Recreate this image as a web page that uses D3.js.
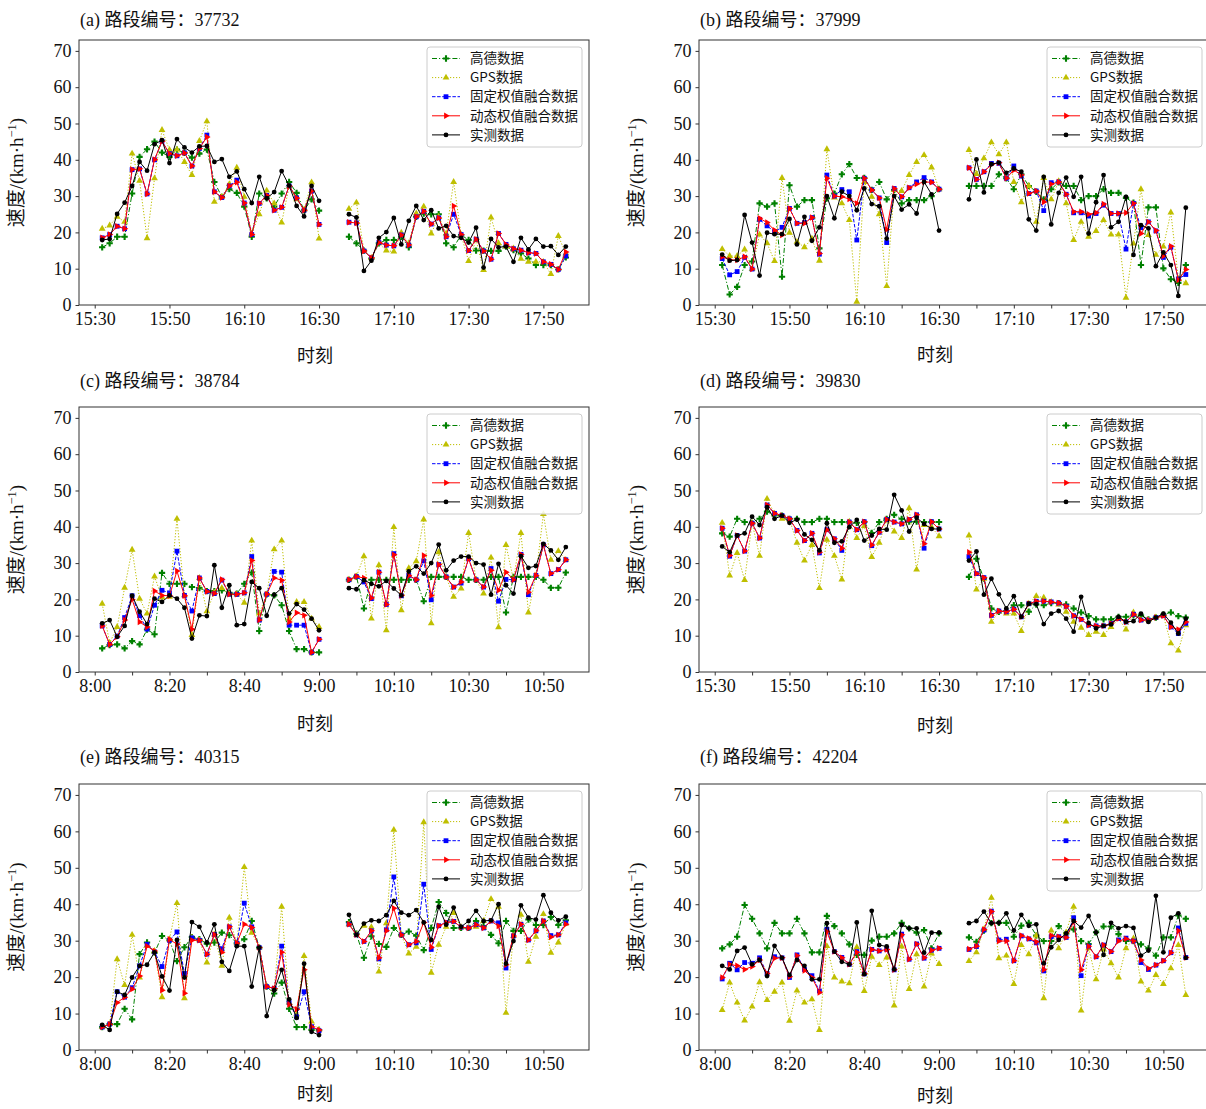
<!DOCTYPE html>
<html>
<head>
<meta charset="utf-8">
<script src="https://cdn.jsdelivr.net/npm/d3@7"></script>
<style>
  body { margin: 0; background: #fff; }
  svg { display: block; }
</style>
</head>
<body>
<svg id="chart" width="1206" height="1109"></svg>
<script>
// series: 高德, GPS, 固定权值融合, 动态权值融合, 实测 (first 30 values = left segment, last 30 = right segment)
const a_gaode = [15.9,17.0,18.8,18.8,30.7,40.8,42.9,45.0,42.0,40.8, 42.8,41.9,40.6,41.7,42.8,33.9,29.8,31.9,30.9,27.1, 18.8,30.7,29.4,27.1,30.7,33.9,30.9,26.1,29.1,26.0,
                 18.8,17.0,15.0,12.8,17.0,17.9,17.9,18.8,15.9,24.3, 25.2,25.0,25.0,17.0,15.9,19.3,17.9,15.0,15.0,14.9, 14.9,16.1,15.1,14.2,12.8,11.0,11.0,11.0,9.8,13.1];
const a_gps = [21.0,21.9,24.3,22.9,41.7,34.2,18.4,34.9,48.2,42.7, 42.8,39.4,35.8,45.2,50.6,28.4,29.8,33.3,37.8,29.8, 19.7,25.0,31.5,28.0,22.7,32.6,29.1,26.3,33.8,18.3,
               26.5,28.2,14.9,13.0,17.0,15.0,14.7,19.9,17.0,25.2, 27.1,19.7,24.3,19.7,33.9,19.3,12.1,17.9,9.6,24.1, 17.0,16.1,15.6,12.7,11.9,11.9,11.9,8.5,19.0,14.2];
const a_fixed = [18.5,19.4,21.7,21.0,37.3,37.5,30.6,40.0,45.1,41.7, 41.1,41.9,38.3,43.1,46.8,31.2,29.6,32.8,34.4,28.1, 19.4,28.0,30.2,26.1,26.9,32.8,29.5,26.1,31.4,22.2,
                 22.8,22.6,14.9,13.0,17.2,16.5,16.3,19.3,16.5,24.3, 25.8,22.3,24.0,18.8,25.0,19.4,15.0,18.1,14.9,12.6, 19.7,16.7,15.5,15.1,14.4,14.2,11.9,11.2,9.8,13.5];
const a_dynamic = [18.5,19.4,21.7,21.0,37.3,37.5,30.6,40.1,45.1,41.7, 41.1,41.9,38.3,43.1,46.3,31.2,29.6,32.8,33.8,28.1, 19.4,28.0,30.2,26.1,26.9,32.8,29.5,26.1,31.4,22.2,
                   22.8,22.6,14.9,13.0,17.2,16.5,16.3,19.3,16.5,24.3, 25.8,22.3,24.0,18.8,27.3,19.4,15.0,18.1,14.9,12.6, 19.7,16.7,15.5,15.1,14.4,14.2,11.9,11.2,9.8,14.6];
const a_measured = [17.9,18.2,25.1,28.2,32.8,39.4,37.0,44.3,45.4,39.1, 45.7,43.4,42.0,43.7,43.8,39.4,40.2,35.3,36.8,31.9, 28.1,35.3,29.4,31.1,36.9,32.9,27.3,24.4,32.8,28.7,
                    25.0,24.1,9.4,12.2,18.5,20.1,24.0,16.7,23.2,27.3, 23.4,26.1,21.1,21.8,19.0,18.5,17.2,21.3,10.3,18.2, 15.9,16.1,11.9,18.5,15.3,18.2,16.1,16.2,13.8,16.1];

const b_gaode = [11.0,2.9,5.0,11.0,12.0,28.0,27.1,28.0,7.8,33.0, 27.1,28.9,28.9,15.6,29.4,30.7,36.0,38.8,35.0,35.0, 31.7,33.9,29.1,31.7,28.0,28.9,28.9,28.9,30.0,31.9,
                 32.8,32.8,32.8,32.8,36.0,34.9,31.9,36.0,32.8,31.2, 29.1,31.9,33.8,32.8,32.8,28.9,30.0,30.0,31.9,30.9, 30.9,29.5,28.2,11.0,26.9,26.9,10.1,7.1,6.1,11.0];
const b_gps = [15.4,13.5,13.5,15.3,9.9,19.4,17.0,12.1,35.0,19.9, 17.4,15.9,18.3,12.2,42.9,29.6,28.0,23.4,0.9,33.9, 29.8,25.0,5.2,31.7,31.4,35.8,39.4,41.3,37.9,31.9,
               42.7,36.1,40.4,44.8,41.5,44.8,33.9,28.3,32.8,22.9, 35.0,29.1,34.1,28.0,17.9,22.9,18.8,20.4,23.4,19.4, 19.4,2.0,16.9,31.9,19.3,13.8,16.1,25.5,7.2,6.0];
const b_fixed = [12.8,8.3,9.2,13.1,9.9,23.6,21.8,20.2,21.4,26.6, 22.5,22.7,24.1,14.0,35.8,30.0,31.8,31.2,17.9,34.9, 31.7,29.5,17.2,32.1,29.8,32.3,33.9,35.1,33.9,31.9,
                 37.8,34.6,36.7,39.0,39.0,34.9,38.3,35.5,30.7,31.4, 26.0,33.7,33.9,30.5,25.4,25.4,24.5,25.2,27.5,25.2, 25.2,15.4,28.0,21.3,22.9,20.4,13.1,15.9,7.2,8.4];
const b_dynamic = [13.3,12.4,12.4,13.3,9.9,23.9,22.7,20.6,19.3,26.6, 22.5,22.5,24.1,14.2,34.9,30.0,29.8,29.2,28.0,34.9, 31.7,29.5,20.8,32.1,29.8,32.3,33.3,33.9,33.8,31.9,
                   37.8,34.6,36.7,38.7,39.2,34.9,37.2,35.8,30.7,31.4, 28.4,33.3,33.9,30.5,25.7,25.7,25.0,25.4,27.8,25.2, 25.2,25.4,28.0,19.7,22.9,20.5,13.5,16.2,6.9,9.8];
const b_measured = [13.9,12.2,12.4,24.8,17.2,8.1,19.9,19.5,19.5,23.7, 16.7,24.3,17.7,21.4,30.0,23.9,31.2,30.0,26.1,32.1, 27.8,27.2,18.3,30.0,26.3,27.7,25.2,33.9,30.5,20.5,
                    29.1,40.1,31.0,38.8,39.2,36.4,37.6,36.7,23.6,20.5, 35.3,22.2,30.9,35.1,29.8,35.3,19.7,28.3,35.8,21.4, 22.9,29.8,13.8,22.0,21.1,10.7,14.5,11.0,2.5,26.8];

const c_gaode = [6.5,7.4,7.6,6.5,8.5,7.6,11.7,10.4,27.3,24.3, 24.3,24.3,23.4,23.1,22.3,22.3,22.5,21.8,21.6,24.3, 27.4,11.3,21.4,21.1,18.4,11.3,6.3,6.3,5.4,5.4,
                 25.4,26.3,17.5,25.4,25.4,25.4,25.4,25.4,25.4,25.4, 19.5,26.2,26.2,26.2,26.2,26.2,25.4,25.4,25.4,26.2, 26.2,16.4,26.2,26.2,26.2,26.2,25.4,23.2,23.2,27.4];
const c_gps = [18.8,8.0,12.4,23.2,33.7,20.2,16.1,26.3,20.5,20.7, 42.2,21.1,10.2,25.9,16.7,21.9,23.1,21.4,21.4,19.1, 36.2,16.1,21.4,33.8,36.2,14.7,19.3,19.3,14.7,12.4,
               25.4,26.3,31.9,14.7,29.4,11.5,39.9,17.0,28.6,30.5, 42.0,13.4,33.0,26.2,20.7,23.0,38.3,25.4,21.6,31.5, 12.3,35.0,25.4,38.3,16.4,26.6,43.5,30.9,33.3,30.9];
const c_fixed = [12.7,7.6,9.9,15.0,21.0,15.5,11.8,18.4,22.5,21.8, 33.3,21.1,16.8,25.9,22.2,21.6,25.3,21.4,21.4,21.8, 31.8,14.3,21.4,27.7,27.5,12.9,12.9,12.9,5.4,9.0,
                 25.4,26.3,24.8,20.2,27.5,18.6,32.6,21.0,26.6,25.4, 30.6,19.9,29.6,26.2,23.4,24.5,31.2,25.4,23.4,28.5, 19.5,25.5,25.4,32.4,21.3,26.6,35.0,27.1,28.2,30.9];
const c_dynamic = [12.7,7.6,9.7,14.3,20.0,13.8,12.4,22.3,21.1,21.0, 27.8,21.0,11.8,25.9,22.2,21.6,25.5,21.4,21.4,21.8, 30.7,14.3,21.4,25.9,25.3,13.8,16.3,15.6,5.4,9.0,
                   25.4,26.3,25.9,20.4,27.5,18.6,32.3,21.1,26.6,25.4, 32.1,21.1,29.6,26.2,23.4,24.8,31.2,25.4,23.4,28.0, 22.5,27.5,25.4,32.4,22.0,26.6,35.0,27.1,28.2,30.9];
const c_measured = [13.4,14.3,9.7,12.7,21.0,16.6,13.2,20.2,19.3,21.1, 20.2,17.7,9.2,15.6,15.4,29.4,17.7,23.9,12.9,13.2, 24.8,23.1,15.5,21.3,23.1,16.1,18.7,17.2,14.7,11.5,
                    23.1,22.8,25.3,24.3,23.6,25.1,23.0,21.1,27.7,29.1, 27.1,30.0,35.1,28.0,30.7,31.8,31.8,30.0,29.6,21.3, 29.8,23.9,21.6,31.9,28.7,29.2,35.3,33.5,30.9,34.4];

const d_gaode = [38.2,37.3,42.2,41.3,41.0,42.2,44.2,43.1,43.1,42.2, 42.2,41.3,41.3,42.2,42.2,41.3,41.3,41.3,41.1,41.3, 38.3,41.3,42.2,43.3,42.2,41.4,41.4,41.3,41.3,41.3,
                 26.2,31.2,25.7,17.5,16.6,16.8,18.4,18.4,16.6,18.6, 18.4,19.0,19.0,18.6,17.5,16.4,15.4,14.5,14.5,14.5, 15.2,15.2,15.6,15.6,14.5,15.0,15.8,16.4,15.4,15.0];
const d_gps = [41.1,26.6,32.8,25.3,41.1,32.0,47.7,43.6,42.2,42.0, 35.6,30.7,35.0,23.1,36.4,32.0,25.5,41.4,36.9,40.2, 31.7,35.6,41.7,38.7,36.9,45.1,28.2,40.5,39.9,37.4,
               37.6,22.7,25.7,13.8,16.6,16.1,16.1,11.3,18.8,20.9, 20.5,19.3,18.6,16.6,13.8,12.2,10.2,11.1,10.2,12.4, 14.7,11.7,16.4,14.3,14.3,15.0,15.5,7.9,5.9,12.9];
const d_fixed = [39.6,31.9,37.6,33.3,41.0,36.9,46.0,43.7,43.1,42.2, 39.0,36.2,38.2,32.8,39.2,36.7,33.5,41.3,39.2,41.4, 34.8,38.5,42.0,41.3,40.8,42.0,43.3,34.1,41.4,39.4,
                 31.8,27.1,26.0,15.6,16.8,16.6,17.3,15.2,18.8,19.5, 19.5,19.3,19.0,18.1,15.5,14.5,12.9,12.7,12.7,13.4, 14.7,13.8,15.9,14.3,14.3,15.0,15.5,12.4,10.6,13.4];
const d_dynamic = [39.6,32.1,37.6,33.3,41.0,36.9,46.0,43.7,43.1,42.2, 39.0,36.2,38.2,33.0,39.2,36.7,34.1,41.3,39.2,41.4, 35.0,38.5,42.0,41.3,40.8,42.0,43.3,35.3,41.4,39.4,
                   33.0,27.1,26.0,15.6,16.8,16.6,17.3,15.2,18.8,19.5, 19.5,19.3,19.0,18.1,15.5,14.5,12.9,12.7,12.7,13.4, 14.7,13.8,15.9,14.3,14.3,15.0,15.5,12.4,11.7,13.8];
const d_measured = [34.6,33.0,37.6,38.2,42.8,40.5,45.4,42.2,43.1,41.1, 42.0,37.9,36.4,33.5,41.0,35.6,36.0,39.9,41.9,36.2, 37.6,39.4,39.2,48.8,44.5,38.7,42.5,40.8,39.4,39.4,
                    30.7,33.2,21.3,25.7,21.4,17.5,20.9,15.2,18.8,18.7, 13.2,16.1,16.8,14.7,11.1,20.7,13.5,12.0,12.7,13.1, 15.2,13.8,14.0,16.1,13.8,15.0,16.1,13.6,10.6,14.7];

const e_gaode = [6.3,7.1,7.1,11.3,8.4,26.3,29.5,26.7,31.3,30.1, 24.4,28.2,31.0,30.4,29.2,29.5,32.2,31.5,29.3,30.4, 35.4,28.1,17.4,15.5,18.5,11.3,6.3,6.3,5.5,5.5,
                 35.1,31.9,25.3,31.2,29.1,28.3,33.5,31.6,32.5,31.4, 27.4,33.5,40.6,37.6,33.5,33.5,33.5,35.4,34.0,31.6, 29.3,35.4,32.7,32.7,35.8,34.3,34.3,36.5,34.3,35.6];
const e_gps = [6.3,7.1,24.9,17.8,31.6,19.9,28.6,27.2,14.5,30.4, 40.3,14.2,30.8,30.1,24.0,31.7,23.1,36.3,29.3,50.2, 32.2,28.1,17.4,16.7,39.3,13.0,9.8,25.8,7.8,5.5,
               34.5,31.6,34.1,33.7,21.5,34.8,60.4,31.6,26.5,28.3, 62.5,21.2,28.9,33.8,37.6,33.7,33.5,33.8,35.4,41.4, 39.3,10.2,31.3,37.1,24.2,31.1,37.3,26.7,29.5,34.7];
const e_fixed = [6.3,7.1,16.0,14.5,17.1,23.1,29.0,26.9,22.9,30.1, 32.4,21.0,30.8,30.1,26.3,31.7,27.8,33.8,29.3,40.3, 33.8,28.1,17.4,16.9,28.5,13.0,9.1,16.0,6.4,5.3,
                 34.5,31.6,29.8,32.7,25.0,33.0,47.5,31.6,28.9,29.4, 45.5,27.6,34.1,35.0,35.3,33.7,33.5,34.4,33.5,35.4, 34.9,22.5,31.3,34.5,30.2,32.7,35.4,31.4,31.6,34.9];
const e_dynamic = [6.3,7.1,13.0,14.5,16.7,20.3,28.5,27.2,16.4,30.4, 29.0,15.6,30.1,30.1,26.3,31.7,26.8,33.8,29.3,34.5, 33.6,28.1,17.4,16.9,26.8,12.5,11.2,22.0,6.4,5.5,
                   34.5,31.6,29.8,32.7,25.3,32.7,38.9,31.6,28.9,29.8, 35.0,28.2,34.1,35.0,35.3,33.7,33.5,34.4,33.5,35.4, 34.0,23.4,31.3,34.5,30.2,32.7,35.4,31.0,31.6,34.5];
const e_measured = [6.9,5.5,16.0,15.1,19.9,23.1,23.4,26.8,20.2,16.3, 30.2,19.9,35.1,33.8,29.5,34.5,24.2,21.7,28.5,28.5, 17.4,28.1,9.3,16.4,22.0,13.9,8.8,23.7,5.0,4.1,
                    37.1,31.6,34.7,35.6,35.4,37.0,40.9,37.7,37.0,38.4, 35.0,30.2,39.3,34.4,39.1,33.8,35.4,38.2,35.4,35.6, 40.0,23.7,29.9,39.7,36.3,35.8,42.5,37.7,35.6,36.6];

const f_gaode = [27.9,29.0,31.1,39.8,36.0,32.0,27.9,34.9,32.0,32.0, 36.0,32.0,26.8,26.8,36.8,34.0,32.0,29.0,26.1,26.1, 30.0,31.1,31.1,32.0,34.9,33.4,32.2,32.9,27.9,32.0,
                 30.9,29.7,32.8,34.8,34.9,34.9,31.1,34.1,34.9,31.4, 29.9,29.9,34.0,32.0,33.1,29.9,29.1,32.3,33.9,33.9, 31.8,29.9,29.9,29.0,27.9,25.9,30.9,30.9,36.9,36.0];
const f_gps = [11.0,18.5,13.0,8.1,11.9,18.6,13.7,16.0,18.5,8.0, 16.3,13.0,13.9,5.5,28.5,19.9,18.8,18.3,28.2,16.2, 25.6,23.3,25.4,12.2,28.4,16.7,26.3,17.4,26.5,23.6,
               24.4,26.8,33.1,41.8,25.2,25.9,18.1,28.8,26.3,31.4, 14.2,32.8,27.9,32.3,39.3,10.8,27.9,19.4,27.6,23.8, 19.9,27.9,30.6,18.8,16.3,20.6,18.1,22.4,28.8,15.1];
const f_fixed = [19.5,23.8,22.0,24.0,23.8,25.3,21.0,25.6,25.3,19.9, 26.1,22.1,20.4,16.2,33.1,27.0,25.4,23.5,27.0,20.9, 27.6,27.2,27.6,22.0,31.8,24.9,29.1,25.2,27.4,27.9,
                 27.6,28.4,32.9,38.1,30.2,30.4,24.5,31.3,30.5,29.4, 21.7,31.1,31.1,30.9,36.3,20.4,28.5,25.6,28.8,27.0, 30.2,30.7,29.9,24.0,22.1,23.3,24.5,26.7,33.5,25.4];
const f_dynamic = [19.9,23.5,23.1,22.1,22.9,24.7,21.0,25.2,25.3,20.1, 25.9,21.8,19.9,15.8,32.5,27.0,25.3,23.5,26.8,21.0, 27.6,27.2,27.6,22.0,31.6,24.9,29.1,25.3,27.4,27.9,
                   27.7,28.5,33.1,38.0,29.9,29.9,24.5,31.4,30.6,29.7, 22.0,31.4,31.1,30.9,35.2,22.0,28.5,25.6,28.8,27.0, 29.9,30.5,29.9,24.7,22.4,23.3,24.5,26.7,32.7,25.4];
const f_measured = [23.1,22.1,27.2,28.1,23.5,24.7,20.3,28.6,25.3,20.6, 24.7,23.1,19.4,19.4,34.8,27.0,24.2,23.5,35.0,20.8, 38.2,28.8,28.4,22.1,34.3,33.4,33.4,26.7,32.2,32.2,
                    34.8,35.4,38.0,34.8,34.9,37.5,32.8,37.1,34.1,34.5, 23.8,28.2,30.2,32.0,35.4,33.6,36.8,32.3,26.1,34.9, 33.4,34.0,33.5,25.9,27.3,42.3,26.8,36.3,37.5,25.3];

// time slots: 2-minute steps, left segment and right segment on one index axis
const leftIdx = d3.range(1, 31);
const rightIdx = d3.range(34, 64);
const pmTicks = ["15:30", "15:50", "16:10", "16:30", "17:10", "17:30", "17:50"];
const amTicks = ["8:00", "8:20", "8:40", "9:00", "10:10", "10:30", "10:50"];
const yTicks = [0, 10, 20, 30, 40, 50, 60, 70];

const seriesNames = ["高德数据", "GPS数据", "固定权值融合数据", "动态权值融合数据", "实测数据"];
const seriesColors = ["#008000", "#bfbf00", "#0000ff", "#ff0000", "#000000"];
const seriesDash = ["5,2,1.2,2", "1.2,1.8", "3.5,1.6", null, null];
const seriesMarker = ["plus", "triUp", "square", "triRight", "circle"];

const panels = [
  { title: "(a) 路段编号：37732", left: 79, top: 40, bottom: 305, titleY: 20, xLabelY: 356, labels: pmTicks, minor: false,
    data: [a_gaode, a_gps, a_fixed, a_dynamic, a_measured] },
  { title: "(b) 路段编号：37999", left: 699, top: 40, bottom: 305, titleY: 20, xLabelY: 355, labels: pmTicks, minor: true,
    data: [b_gaode, b_gps, b_fixed, b_dynamic, b_measured] },
  { title: "(c) 路段编号：38784", left: 79, top: 407, bottom: 672, titleY: 381, xLabelY: 724, labels: amTicks, minor: true,
    data: [c_gaode, c_gps, c_fixed, c_dynamic, c_measured] },
  { title: "(d) 路段编号：39830", left: 699, top: 407, bottom: 672, titleY: 381, xLabelY: 726, labels: pmTicks, minor: true,
    data: [d_gaode, d_gps, d_fixed, d_dynamic, d_measured] },
  { title: "(e) 路段编号：40315", left: 79, top: 784, bottom: 1050, titleY: 757, xLabelY: 1094, labels: amTicks, minor: true,
    data: [e_gaode, e_gps, e_fixed, e_dynamic, e_measured] },
  { title: "(f) 路段编号：42204", left: 699, top: 784, bottom: 1050, titleY: 757, xLabelY: 1096, labels: amTicks, minor: true,
    data: [f_gaode, f_gps, f_fixed, f_dynamic, f_measured] }
];

const serif = "'Liberation Serif', 'Times New Roman', 'Noto Sans CJK SC', serif";
const cjk = "'Noto Sans CJK SC', 'DejaVu Sans', sans-serif";
const panelWidth = 510;

const svg = d3.select("#chart");
svg.append("rect").attr("width", 1206).attr("height", 1109).attr("fill", "#fff");

function drawMarker(g, type, color) {
  if (type === "circle") {
    g.append("circle").attr("r", 2.4).attr("fill", color);
  } else if (type === "square") {
    g.append("rect").attr("x", -2.4).attr("y", -2.4).attr("width", 4.8).attr("height", 4.8).attr("fill", color);
  } else if (type === "triUp") {
    g.append("path").attr("d", d3.symbol(d3.symbolTriangle, 20)()).attr("fill", color);
  } else if (type === "triRight") {
    g.append("path").attr("d", d3.symbol(d3.symbolTriangle, 18)()).attr("transform", "rotate(90)").attr("fill", color);
  } else {
    g.append("path").attr("d", d3.symbol(d3.symbolCross, 22)()).attr("fill", color);
  }
}

panels.forEach(p => {
  const right = p.left + panelWidth;
  const x = d3.scaleLinear().domain([-2.1, 66.1]).range([p.left, right]);
  const y = d3.scaleLinear().domain([0, 73]).range([p.bottom, p.top]);
  const g = svg.append("g");

  // x axis
  const xTickVals = p.minor ? d3.range(0, 61, 5) : d3.range(0, 61, 10);
  const xAxis = g.append("g")
      .attr("transform", "translate(0," + p.bottom + ")")
      .call(d3.axisBottom(x).tickValues(xTickVals).tickSizeInner(3.5).tickSizeOuter(0).tickPadding(4)
        .tickFormat(d => d % 10 === 0 ? p.labels[d / 10] : ""));
  xAxis.select(".domain").remove();
  xAxis.selectAll("line").attr("stroke", "#333");
  xAxis.selectAll("text").attr("font-family", serif).attr("font-size", 18).attr("fill", "#111");

  // y axis
  const yAxis = g.append("g")
      .attr("transform", "translate(" + p.left + ",0)")
      .call(d3.axisLeft(y).tickValues(yTicks).tickSizeInner(3.5).tickSizeOuter(0).tickPadding(4));
  yAxis.select(".domain").remove();
  yAxis.selectAll("line").attr("stroke", "#333");
  yAxis.selectAll("text").attr("font-family", serif).attr("font-size", 18).attr("fill", "#111");

  // series
  const line = d3.line().x(d => x(d.i)).y(d => y(d.v));
  p.data.forEach((vals, s) => {
    const segs = [
      leftIdx.map((i, k) => ({ i: i, v: vals[k] })),
      rightIdx.map((i, k) => ({ i: i, v: vals[30 + k] }))
    ];
    const sg = g.append("g");
    segs.forEach(seg => {
      sg.append("path").datum(seg)
        .attr("d", line)
        .attr("fill", "none")
        .attr("stroke", seriesColors[s])
        .attr("stroke-width", 1)
        .attr("stroke-dasharray", seriesDash[s]);
      seg.forEach(d => {
        const m = sg.append("g").attr("transform", "translate(" + x(d.i) + "," + y(d.v) + ")");
        drawMarker(m, seriesMarker[s], seriesColors[s]);
      });
    });
  });

  // frame
  g.append("rect")
    .attr("x", p.left).attr("y", p.top)
    .attr("width", panelWidth).attr("height", p.bottom - p.top)
    .attr("fill", "none").attr("stroke", "#333").attr("stroke-width", 1);

  // legend
  const lx = right - 162, ly = p.top + 7;
  const lg = g.append("g");
  lg.append("rect").attr("x", lx).attr("y", ly).attr("width", 155).attr("height", 100)
    .attr("rx", 3).attr("fill", "#fff").attr("fill-opacity", 0.85)
    .attr("stroke", "#cccccc").attr("stroke-width", 1);
  seriesNames.forEach((name, s) => {
    const ey = ly + 11.5 + 19.1 * s;
    lg.append("line").attr("x1", lx + 5).attr("x2", lx + 33).attr("y1", ey).attr("y2", ey)
      .attr("stroke", seriesColors[s]).attr("stroke-width", 1).attr("stroke-dasharray", seriesDash[s]);
    drawMarker(lg.append("g").attr("transform", "translate(" + (lx + 19) + "," + ey + ")"), seriesMarker[s], seriesColors[s]);
    lg.append("text").attr("x", lx + 43).attr("y", ey).attr("dy", "0.35em")
      .attr("font-family", cjk).attr("font-size", 13.5).attr("fill", "#111").text(name);
  });

  // titles and axis labels
  g.append("text").attr("x", p.left + 1).attr("y", p.titleY).attr("dy", "0.35em")
    .attr("font-family", serif).attr("font-size", 18).attr("fill", "#111").text(p.title);

  g.append("text").attr("x", p.left + 236).attr("y", p.xLabelY).attr("dy", "0.35em")
    .attr("text-anchor", "middle").attr("font-family", serif).attr("font-size", 18).attr("fill", "#111").text("时刻");

  const yl = g.append("text")
    .attr("transform", "translate(" + (p.left - 56) + "," + ((p.top + p.bottom) / 2) + ") rotate(-90)")
    .attr("text-anchor", "middle").attr("font-family", serif).attr("font-size", 19).attr("fill", "#111");
  yl.append("tspan").text("速度/(km·h");
  yl.append("tspan").attr("dy", -7).attr("font-size", 12.5).text("−1");
  yl.append("tspan").attr("dy", 7).text(")");
});
</script>
</body>
</html>
